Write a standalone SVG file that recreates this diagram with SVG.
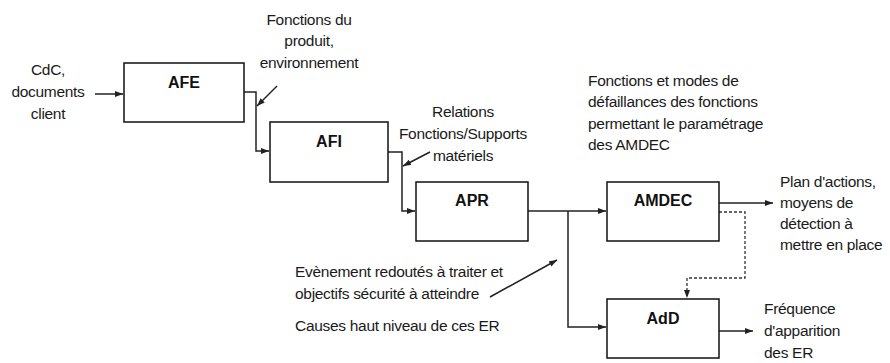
<svg xmlns="http://www.w3.org/2000/svg" width="890" height="363" viewBox="0 0 890 363">
<defs>
<marker id="ah" markerWidth="9" markerHeight="7" refX="8" refY="3" orient="auto" markerUnits="userSpaceOnUse">
<path d="M0,0 L8,3 L0,6 z" fill="#222"/>
</marker>
<style>
.box{fill:#fff;stroke:#111;stroke-width:1.5}
.lbl{font-family:"Liberation Sans",Arial,sans-serif;font-weight:bold;font-size:16px;fill:#111;text-anchor:middle}
.t{font-family:"Liberation Sans",Arial,sans-serif;font-size:15.5px;letter-spacing:-0.3px;fill:#1a1a1a}
.c{text-anchor:middle}
.ln{fill:none;stroke:#222;stroke-width:1.5;marker-end:url(#ah)}
.dash{fill:none;stroke:#333;stroke-width:1.3;stroke-dasharray:3,2;marker-end:url(#ah)}
</style>
</defs>
<rect width="890" height="363" fill="#fff"/>
<g id="connectors">
<path class="ln" d="M95,94 H123"/>
<path class="ln" d="M244,92 H256 V151 H269"/>
<path class="ln" d="M277,86 L257,106"/>
<path class="ln" d="M388,152 H402 V211 H415"/>
<path class="ln" d="M430,152 L403,166"/>
<path class="ln" d="M528,211 H606"/>
<path class="ln" d="M568,211 V327 H606"/>
<path class="ln" d="M490,297 L557,260"/>
<path class="ln" d="M719,203 H773"/>
<path class="dash" d="M719,212 H745 V278 H687 V298"/>
<path class="ln" d="M719,331 H753"/>
</g>
<g id="AFE"><rect class="box" x="124" y="63" width="120" height="59"/><text class="lbl" x="184" y="88">AFE</text></g>
<g id="AFI"><rect class="box" x="270" y="122" width="118" height="60"/><text class="lbl" x="329" y="147">AFI</text></g>
<g id="APR"><rect class="box" x="416" y="182" width="112" height="59"/><text class="lbl" x="472" y="206">APR</text></g>
<g id="AMDEC"><rect class="box" x="607" y="182" width="112" height="59"/><text class="lbl" x="663" y="206">AMDEC</text></g>
<g id="AdD"><rect class="box" x="607" y="299" width="112" height="59"/><text class="lbl" x="663" y="324">AdD</text></g>
<g id="labels">
<text class="t c" x="48" y="75">CdC,</text>
<text class="t c" x="48" y="97">documents</text>
<text class="t c" x="48" y="119">client</text>
<text class="t c" x="309" y="25">Fonctions du</text>
<text class="t c" x="309" y="46">produit,</text>
<text class="t c" x="309" y="68">environnement</text>
<text class="t c" x="463" y="117">Relations</text>
<text class="t c" x="463" y="139">Fonctions/Supports</text>
<text class="t c" x="463" y="161">matériels</text>
<text class="t" x="588" y="86">Fonctions et modes de</text>
<text class="t" x="588" y="107">défaillances des fonctions</text>
<text class="t" x="588" y="129">permettant le paramétrage</text>
<text class="t" x="588" y="150">des AMDEC</text>
<text class="t" x="780" y="187">Plan d'actions,</text>
<text class="t" x="780" y="208">moyens de</text>
<text class="t" x="780" y="229">détection à</text>
<text class="t" x="780" y="250">mettre en place</text>
<text class="t" x="295" y="277">Evènement redoutés à traiter et</text>
<text class="t" x="295" y="299">objectifs sécurité à atteindre</text>
<text class="t" x="295" y="331">Causes haut niveau de ces ER</text>
<text class="t" x="764" y="314">Fréquence</text>
<text class="t" x="764" y="336">d'apparition</text>
<text class="t" x="764" y="358">des ER</text>
</g>
</svg>
